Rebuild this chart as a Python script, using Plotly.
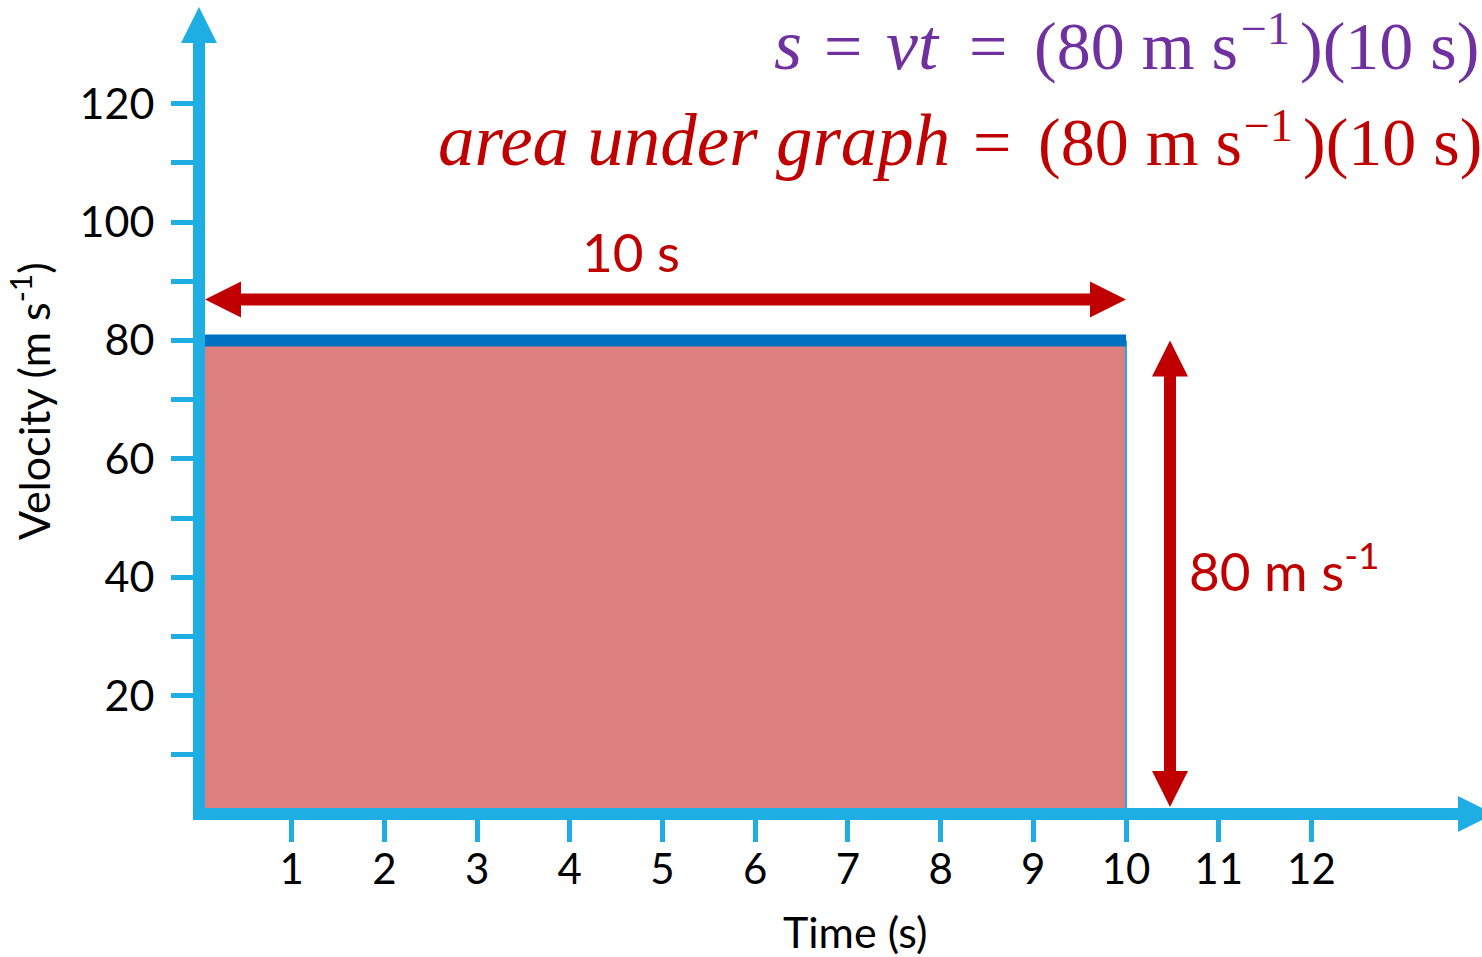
import plotly.graph_objects as go

# ---- data ----
time_s = [0, 10]
velocity_ms = [80, 80]
x_tick_vals = [1, 2, 3, 4, 5, 6, 7, 8, 9, 10, 11, 12]
x_tick_text = ["1", "2", "3", "4", "5", "6", "7", "8", "9", "10", "11", "12"]
y_tick_vals = [10, 20, 30, 40, 50, 60, 70, 80, 90, 100, 110, 120]
y_tick_text = ["", "20", "", "40", "", "60", "", "80", "", "100", "", "120"]
duration_label = "10 s"
velocity_label = "80 m s<sup>-1</sup>"
x_title = "Time (s)"
y_title = "Velocity (m s<sup>-1</sup>)"

# equation pieces: (text, left edge px, size, baseline offset px)
eq_line1 = [("<i>s</i>", 773, 72, 0), ("=", 823, 68, 0), ("<i>vt</i>", 885, 72, 0),
            ("=", 968, 68, 0), ("(80 m s", 1033, 68, 0), ("−1", 1240, 46, -25),
            (")(10 s)", 1299, 68, 0)]
eq_line2 = [("<i>area under graph</i>", 437, 73, 0), ("=", 972, 68, 0),
            ("(80 m s", 1037, 68, 0), ("−1", 1243, 46, -24),
            (")(10 s)", 1302, 68, 0)]

# ---- geometry ----
W, H = 1482, 957
M_L, M_B = 199, 143
PW, PH = W - M_L, H - M_B
PX_PER_S = 92.7
PX_PER_V = 5.92
X_MAX = PW / PX_PER_S
Y_MAX = PH / PX_PER_V

AXIS_BLUE = "#1EAEE3"
LINE_BLUE = "#0070C0"
FILL_RED = "#DD7F7E"
DARK_RED = "#C00000"
PURPLE = "#7030A0"

SANS = "Lato"
SERIF = "Liberation Serif"

AXIS_W = 12     # axis stroke thickness, px
HEAD = 36       # arrow head length / width, px
SHAFT = 12      # red arrow shaft thickness, px


def dx(px):
    return px / PX_PER_S


def dy(px):
    return px / PX_PER_V


def paper_x(px):
    return (px - M_L) / PW


def paper_y(py):
    return (PH - py) / PH


def poly(points):
    return "M " + " L ".join(f"{x:.5f},{y:.5f}" for x, y in points) + " Z"


def double_arrow_h(x0, x1, yc):
    hl, hw, sw = dx(HEAD), dy(HEAD / 2), dy(SHAFT / 2)
    return poly([
        (x0, yc), (x0 + hl, yc + hw), (x0 + hl, yc + sw), (x1 - hl, yc + sw),
        (x1 - hl, yc + hw), (x1, yc), (x1 - hl, yc - hw), (x1 - hl, yc - sw),
        (x0 + hl, yc - sw), (x0 + hl, yc - hw),
    ])


def double_arrow_v(xc, y0, y1):
    hl, hw, sw = dy(HEAD), dx(HEAD / 2), dx(SHAFT / 2)
    return poly([
        (xc, y0), (xc + hw, y0 + hl), (xc + sw, y0 + hl), (xc + sw, y1 - hl),
        (xc + hw, y1 - hl), (xc, y1), (xc - hw, y1 - hl), (xc - sw, y1 - hl),
        (xc - sw, y0 + hl), (xc - hw, y0 + hl),
    ])


fig = go.Figure()

# area under the velocity-time graph
fig.add_trace(go.Scatter(
    x=time_s, y=velocity_ms, mode="lines", fill="tozeroy",
    fillcolor=FILL_RED, line=dict(width=0), hoverinfo="skip", showlegend=False,
))
# right edge of the area
fig.add_trace(go.Scatter(
    x=[time_s[-1], time_s[-1]], y=[0, velocity_ms[-1]], mode="lines",
    line=dict(color=AXIS_BLUE, width=2), hoverinfo="skip", showlegend=False,
))
# constant velocity line
fig.add_trace(go.Scatter(
    x=time_s, y=velocity_ms, mode="lines",
    line=dict(color=LINE_BLUE, width=12), hoverinfo="skip", showlegend=False,
))

t_end = time_s[-1]
v_top = velocity_ms[-1]

shapes = [
    # duration arrow above the line
    dict(type="path", xref="x", yref="y", layer="above", line=dict(width=0),
         fillcolor=DARK_RED,
         path=double_arrow_h(time_s[0] + dx(AXIS_W / 2), t_end, v_top + dy(41))),
    # velocity arrow right of the area
    dict(type="path", xref="x", yref="y", layer="above", line=dict(width=0),
         fillcolor=DARK_RED,
         path=double_arrow_v(t_end + dx(44), dy(7), v_top)),
]

# axis lines with arrow heads (pixel outline mapped to paper space)
ox, oy = M_L, PH
half = AXIS_W / 2
y_tip, x_tip = 7, 1494
axis_px = [
    (ox - half, oy + half), (ox - half, y_tip + HEAD), (ox - HEAD / 2, y_tip + HEAD),
    (ox, y_tip), (ox + HEAD / 2, y_tip + HEAD), (ox + half, y_tip + HEAD),
    (ox + half, oy - half), (x_tip - HEAD, oy - half), (x_tip - HEAD, oy - HEAD / 2),
    (x_tip, oy), (x_tip - HEAD, oy + HEAD / 2), (x_tip - HEAD, oy + half),
]
shapes.append(dict(type="path", xref="paper", yref="paper", layer="above",
                   line=dict(width=0), fillcolor=AXIS_BLUE,
                   path=poly([(paper_x(px), paper_y(py)) for px, py in axis_px])))

annotations = [
    dict(text=duration_label, x=paper_x(631), y=paper_y(284), xref="paper", yref="paper",
         xanchor="center", yanchor="bottom", showarrow=False,
         font=dict(family=SANS, size=53, color=DARK_RED), borderpad=0),
    dict(text=velocity_label, x=paper_x(1188), y=paper_y(603), xref="paper", yref="paper",
         xanchor="left", yanchor="bottom", showarrow=False,
         font=dict(family=SANS, size=53, color=DARK_RED), borderpad=0),
    dict(text=x_title, x=paper_x(855), y=paper_y(958), xref="paper", yref="paper",
         xanchor="center", yanchor="bottom", showarrow=False,
         font=dict(family=SANS, size=43, color="black"), borderpad=0),
    dict(text=y_title, x=paper_x(30), y=paper_y(401), xref="paper", yref="paper",
         xanchor="center", yanchor="middle", showarrow=False, textangle=-90,
         font=dict(family=SANS, size=43, color="black"), borderpad=0),
]

for tokens, color, baseline in ((eq_line1, PURPLE, 70), (eq_line2, DARK_RED, 166)):
    for text, left, size, shift in tokens:
        annotations.append(dict(
            text=text, x=paper_x(left), y=paper_y(baseline + shift + 0.216 * size),
            xref="paper", yref="paper", xanchor="left", yanchor="bottom",
            showarrow=False, borderpad=0,
            font=dict(family=SERIF, size=size, color=color),
        ))

fig.update_layout(
    width=W, height=H, autosize=False,
    margin=dict(l=M_L, r=0, t=0, b=M_B, pad=0),
    paper_bgcolor="white", plot_bgcolor="white",
    shapes=shapes, annotations=annotations,
    xaxis=dict(range=[0, X_MAX], showgrid=False, zeroline=False, showline=False,
               ticks="outside", ticklen=27, tickwidth=5, tickcolor=AXIS_BLUE,
               tickvals=x_tick_vals, ticktext=x_tick_text, ticklabelstandoff=-8,
               tickfont=dict(family=SANS, size=42, color="black"),
               fixedrange=True),
    yaxis=dict(range=[0, Y_MAX], showgrid=False, zeroline=False, showline=False,
               ticks="outside", ticklen=27, tickwidth=5, tickcolor=AXIS_BLUE,
               tickvals=y_tick_vals, ticktext=y_tick_text, ticklabelstandoff=8,
               tickfont=dict(family=SANS, size=43, color="black"),
               fixedrange=True),
    showlegend=False,
)

fig.write_html("out.html")
